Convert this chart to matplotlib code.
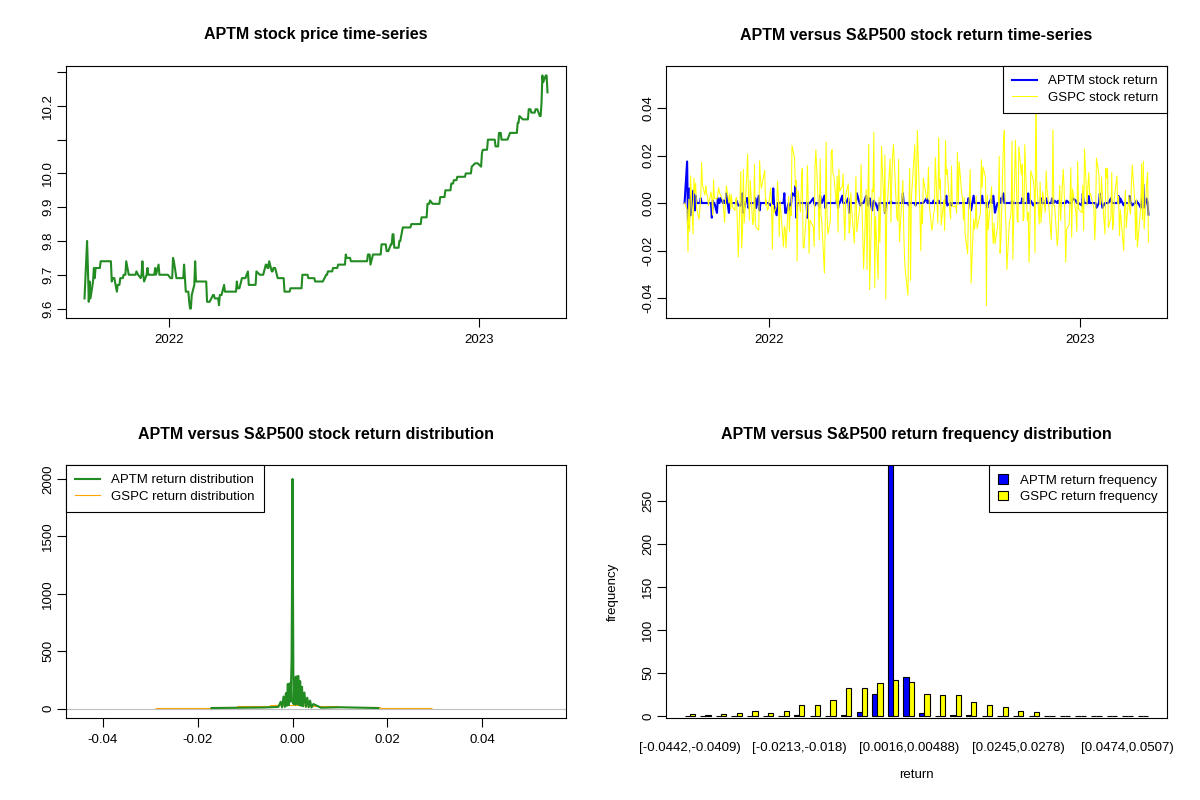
import matplotlib
matplotlib.use("Agg")
import matplotlib.pyplot as plt
import matplotlib.dates as mdates
from matplotlib.patches import Patch
from matplotlib.lines import Line2D
import numpy as np
import pandas as pd

plt.rcParams["font.family"] = ["Liberation Sans", "DejaVu Sans"]

# trading calendar
first_day = "2021-09-24"
last_day = "2023-03-22"
market_holidays = ["2021-11-25", "2021-12-24", "2022-01-17", "2022-02-21",
                   "2022-04-15", "2022-05-30", "2022-06-20", "2022-07-04",
                   "2022-09-05", "2022-11-24", "2022-12-26", "2023-01-02",
                   "2023-01-16", "2023-02-20"]

# APTM close: dates where the price moved, and the new price
aptm_dates = ["2021-09-24", "2021-09-27", "2021-09-28", "2021-09-29", "2021-09-30",
              "2021-10-01", "2021-10-04", "2021-10-05", "2021-10-06", "2021-10-07",
              "2021-10-13", "2021-10-26", "2021-10-27", "2021-11-01", "2021-11-02",
              "2021-11-05", "2021-11-09", "2021-11-12", "2021-11-15", "2021-11-24",
              "2021-11-26", "2021-11-29", "2021-11-30", "2021-12-01", "2021-12-02",
              "2021-12-03", "2021-12-06", "2021-12-07", "2021-12-08", "2021-12-16",
              "2021-12-17", "2021-12-20", "2021-12-21", "2022-01-03", "2022-01-06",
              "2022-01-07", "2022-01-10", "2022-01-19", "2022-01-20", "2022-01-21",
              "2022-01-25", "2022-01-26", "2022-01-28", "2022-01-31", "2022-02-01",
              "2022-02-02", "2022-02-15", "2022-02-22", "2022-02-24", "2022-03-01",
              "2022-03-02", "2022-03-07", "2022-03-08", "2022-03-22", "2022-03-23",
              "2022-03-28", "2022-04-04", "2022-04-05", "2022-04-14", "2022-04-18",
              "2022-04-25", "2022-04-27", "2022-04-29", "2022-05-02", "2022-05-04",
              "2022-05-09", "2022-05-17", "2022-05-24", "2022-06-07", "2022-06-14",
              "2022-06-22", "2022-07-05", "2022-07-07", "2022-07-13", "2022-07-19",
              "2022-07-28", "2022-07-29", "2022-08-03", "2022-08-23", "2022-08-26",
              "2022-08-29", "2022-09-08", "2022-09-14", "2022-09-19", "2022-09-21",
              "2022-09-23", "2022-09-29", "2022-10-03", "2022-10-13", "2022-10-25",
              "2022-11-01", "2022-11-04", "2022-11-07", "2022-11-16", "2022-11-22",
              "2022-11-29", "2022-12-02", "2022-12-06", "2022-12-16", "2022-12-23",
              "2022-12-27", "2023-01-03", "2023-01-04", "2023-01-05", "2023-01-11",
              "2023-01-20", "2023-01-24", "2023-01-27", "2023-02-06", "2023-02-15",
              "2023-02-17", "2023-02-21", "2023-02-28", "2023-03-03", "2023-03-08",
              "2023-03-13", "2023-03-15", "2023-03-16", "2023-03-17", "2023-03-20",
              "2023-03-22"]
aptm_prices = [9.63, 9.80, 9.72, 9.62, 9.68,
               9.63, 9.68, 9.72, 9.69, 9.72,
               9.74, 9.68, 9.69, 9.65, 9.67,
               9.69, 9.70, 9.74, 9.70, 9.71,
               9.70, 9.69, 9.70, 9.74, 9.70,
               9.68, 9.70, 9.72, 9.70, 9.72,
               9.70, 9.73, 9.70, 9.69, 9.75,
               9.74, 9.69, 9.73, 9.69, 9.65,
               9.62, 9.60, 9.64, 9.67, 9.74,
               9.68, 9.62, 9.64, 9.63, 9.61,
               9.64, 9.67, 9.65, 9.68, 9.66,
               9.69, 9.71, 9.67, 9.71, 9.70,
               9.73, 9.72, 9.74, 9.71, 9.72,
               9.69, 9.65, 9.66, 9.70, 9.69,
               9.68, 9.70, 9.71, 9.72, 9.73,
               9.76, 9.75, 9.74, 9.76, 9.73,
               9.76, 9.79, 9.77, 9.79, 9.82,
               9.78, 9.80, 9.84, 9.85, 9.87,
               9.91, 9.92, 9.91, 9.93, 9.95,
               9.97, 9.98, 9.99, 10.00, 10.02,
               10.03, 10.02, 10.06, 10.07, 10.10,
               10.08, 10.12, 10.10, 10.12, 10.15,
               10.17, 10.16, 10.19, 10.18, 10.19,
               10.17, 10.21, 10.29, 10.27, 10.29,
               10.24]

# S&P500 daily returns in percent, one line per month
gspc_2021 = [0.00, -0.28, -2.04, 0.16, -1.19,
             1.15, -1.30, 1.05, 0.41, 0.83, -0.19, -0.69, -0.24, 0.30, 1.71, 0.75, 0.34, 0.74, 0.37, 0.30, -0.11, 0.47, 0.18, -0.51, 0.98, 0.19,
             0.18, 0.37, 0.65, 0.42, 0.37, 0.09, -0.35, -0.82, 0.06, 0.72, 0.00, 0.39, -0.26, 0.34, -0.14, -0.32, 0.17, 0.23, -2.27, 1.32, -1.90,
             -1.18, 1.42, -0.84, 1.17, 2.07, 0.31, -0.72, 0.95, -0.91, -0.75, 1.63, -0.87, -1.03, -1.14, 1.78, 1.02, 0.62, 1.38, -0.10, 0.14, -0.30, -0.26]
gspc_2022 = [0.64, -0.06, -1.94, -0.10, -0.41, -0.14, 0.92, 0.28, -1.42, 0.08, -1.84, -0.97, -1.10, -1.89, 0.28, -1.22, -0.15, -0.54, 2.43, 1.89,
             0.69, 0.94, -2.44, 0.52, -0.37, 0.84, 1.45, -1.81, -1.90, -0.38, 1.58, 0.09, -2.12, -0.72, -1.01, -1.84, 1.50, 2.24, -0.24,
             -1.55, 1.86, -0.53, -0.79, -2.95, -0.72, 2.57, -0.43, -1.30, -0.74, 2.14, 2.24, 1.23, 1.17, -0.04, 1.13, -1.23, 1.43, 0.51, 0.71, 1.23, -0.63, -1.57,
             0.34, 0.81, -1.26, -0.97, 0.43, -0.27, -1.69, -0.34, 1.12, -1.21, -0.02, 1.61, -0.06, -1.48, -2.77, 0.57, -2.81, 0.21, 2.47, -3.63,
             0.57, 0.48, 2.99, -3.56, -0.57, -3.20, 0.25, -1.65, -0.13, 2.39, -0.39, 2.02, -4.04, -0.58, 0.01, 1.86, -0.81, 0.95, 1.99, 2.47, -0.63,
             -0.75, 1.84, -1.63, 0.31, 0.95, -1.08, -2.38, -2.91, -3.88, -0.38, 1.46, -3.25, 0.22, 2.45, -0.13, 0.95, 3.06, -0.30, -2.01, -0.07, -0.88,
             1.06, 0.16, 0.36, 1.50, -0.08, -1.15, -0.92, -0.45, -0.30, 1.92, -0.84, 2.76, 0.59, 0.99, -0.93, 0.13, -1.15, 2.62, 1.21, 1.42,
             -0.28, -0.67, 1.56, -0.08, -0.16, -0.12, -0.42, 2.13, -0.07, 1.73, 0.40, 0.19, -0.72, 0.23, -1.29, -2.14, -0.22, 0.29, 1.41, -3.37, -0.67, -1.10, -0.78,
             0.30, -1.07, -0.41, 1.83, 0.66, 1.53, 1.06, -4.32, 0.34, -1.13, -0.72, 0.69, -1.13, -1.71, -0.84, -1.72, -1.03, -0.21, 1.97, -2.11, -1.51,
             2.59, 3.06, -0.20, -1.02, -2.80, -0.75, -0.65, -0.33, 2.60, -2.37, 2.65, 1.14, -0.67, -0.80, 2.37, 1.19, 1.63, -0.74, -0.61, 2.46, -0.75,
             -0.41, -2.50, -1.06, 1.36, 0.96, 0.56, -2.08, 5.37, 0.92, -0.89, 0.87, -0.83, -0.31, 0.48, -0.39, 1.36, 0.59, -0.03, -1.54, -0.16, 3.09,
             -0.09, -0.12, -1.79, -1.44, -0.19, 0.75, -0.73, 1.43, 0.73, -0.61, -2.49, -1.11, -0.90, 0.10, 1.49, -1.45, 0.59, -0.40, -1.20, 1.75, -0.25]
gspc_2023 = [-0.40, 0.75, -1.16, 2.28, -0.08, 0.70, 1.28, 0.34, 0.40, -0.20, -1.56, -0.76, 1.89, 1.19, -0.07, -0.02, 1.10, 0.25, -1.30, 1.46,
             1.05, 1.47, -1.04, -0.61, 1.29, -1.11, -0.88, 0.22, 1.14, -0.03, 0.28, -1.38, -0.28, -2.00, -0.16, 0.53, -1.05, 0.31, -0.30,
             -0.47, 0.76, 1.61, 0.07, -1.53, 0.14, -1.85, -1.45, -0.15, 1.65, -0.70, 1.76, -1.10, 0.89, 1.30, -1.65]

# return distribution curves
aptm_dist_x = [-0.0171, -0.0110, -0.0060, -0.0030, -0.0025, -0.0022, -0.0019, -0.0016, -0.0014,
               -0.0012, -0.0010, -0.0008, -0.0006, -0.0004, -0.0002, 0.0000, 0.0002, 0.0004, 0.0006,
               0.0008, 0.0010, 0.0012, 0.0014, 0.0016, 0.0018, 0.0020, 0.0022, 0.0025, 0.0028,
               0.0031, 0.0034, 0.0037, 0.0040, 0.0044, 0.0060, 0.0100, 0.0181]
aptm_dist_y = [5, 8, 10, 15, 60, 10, 105, 15, 135,
               25, 215, 30, 220, 60, 430, 2000, 40, 270, 35,
               280, 40, 285, 30, 240, 25, 190, 20, 140, 15,
               95, 12, 70, 10, 40, 8, 12, 5]
gspc_dist_edges = [-0.0290, -0.0171, -0.0118, -0.0048, 0.0026, 0.0096, 0.0184, 0.0295]
gspc_dist_y = [9, 17, 26, 35, 26, 17, 9]

# return frequency table
bin_labels = ["[-0.0442,-0.0409)", "[-0.0409,-0.0377)", "[-0.0377,-0.0344)", "[-0.0344,-0.0311)",
              "[-0.0311,-0.0278)", "[-0.0278,-0.0246)", "[-0.0246,-0.0213)", "[-0.0213,-0.018)",
              "[-0.018,-0.0148)", "[-0.0148,-0.0115)", "[-0.0115,-0.00821)", "[-0.00821,-0.00494)",
              "[-0.00494,-0.00166)", "[-0.00166,0.0016)", "[0.0016,0.00488)", "[0.00488,0.00816)",
              "[0.00816,0.0114)", "[0.0114,0.0147)", "[0.0147,0.018)", "[0.018,0.0212)",
              "[0.0212,0.0245)", "[0.0245,0.0278)", "[0.0278,0.0311)", "[0.0311,0.0343)",
              "[0.0343,0.0376)", "[0.0376,0.0409)", "[0.0409,0.0442)", "[0.0442,0.0474)",
              "[0.0474,0.0507)", "[0.0507,0.054]"]
aptm_freq = [0, 0, 0, 0, 0, 0, 0, 1, 0, 0, 1, 5, 26, 292, 45, 3, 0, 1, 1, 0, 0, 0, 0, 0, 0, 0, 0, 0, 0, 0]
gspc_freq = [2, 1, 2, 3, 6, 3, 6, 13, 13, 19, 33, 33, 38, 42, 40, 26, 24, 25, 16, 13, 10, 6, 5, 0, 0, 0, 0, 0, 0, 0]

days = pd.bdate_range(first_day, last_day)
days = days[~days.isin(pd.to_datetime(market_holidays))]
aptm = pd.Series(aptm_prices, index=pd.to_datetime(aptm_dates)).reindex(days, method="ffill")
aptm_ret = np.log(aptm).diff().fillna(0)
gspc_ret = np.array(gspc_2021 + gspc_2022 + gspc_2023) / 100
n = min(len(days), len(gspc_ret))

GREEN = "#228B22"
FS = 9.5
W, H = 1200, 800


def make_axes(left, top, right, bottom):
    return fig.add_axes([left / W, 1 - bottom / H, (right - left) / W, (bottom - top) / H])


def style(ax):
    for s in ax.spines.values():
        s.set_linewidth(0.8)
    ax.tick_params(length=6.5, width=0.8, labelsize=FS, pad=5)
    ax.tick_params(axis="y", pad=2)
    for t in ax.get_yticklabels():
        t.set_rotation(90)
        t.set_va("center")


def title(ax, text, y):
    box = ax.get_position()
    fig.text((box.x0 + box.x1) / 2, 1 - y / H, text, ha="center", va="center",
             fontsize=11.5, fontweight="bold")


def legend(ax, handles, labels, loc, **kw):
    opts = dict(handlelength=1.9, handletextpad=0.8)
    opts.update(kw)
    lg = ax.legend(handles, labels, loc=loc, fontsize=FS, frameon=True, fancybox=False,
                   edgecolor="black", framealpha=1, borderaxespad=0,
                   labelspacing=0.3, borderpad=0.7, **opts)
    lg.get_frame().set_linewidth(0.8)


fig = plt.figure(figsize=(12, 8), dpi=100)

# price time series
ax1 = make_axes(66, 66, 566, 318)
ax1.plot(days, aptm.values, color=GREEN, lw=1.5)
span = days[-1] - days[0]
ax1.set_xlim(days[0] - span * 0.04, days[-1] + span * 0.04)
ax1.set_ylim(9.572, 10.318)
ax1.xaxis.set_major_locator(mdates.YearLocator())
ax1.xaxis.set_major_formatter(mdates.DateFormatter("%Y"))
yt = [9.6, 9.7, 9.8, 9.9, 10.0, 10.1, 10.2, 10.3]
ax1.set_yticks(yt)
ax1.set_yticklabels(["9.6", "9.7", "9.8", "9.9", "10.0", "", "10.2", ""])
style(ax1)
title(ax1, "APTM stock price time-series", 35)

# return time series
ax2 = make_axes(666, 66, 1167, 318)
ax2.plot(days, aptm_ret.values, color="blue", lw=1.5)
ax2.plot(days[:n], gspc_ret[:n], color="yellow", lw=0.75)
ax2.set_xlim(days[0] - span * 0.04, days[-1] + span * 0.04)
ax2.set_ylim(-0.0484, 0.0577)
ax2.xaxis.set_major_locator(mdates.YearLocator())
ax2.xaxis.set_major_formatter(mdates.DateFormatter("%Y"))
ax2.set_yticks([-0.04, -0.02, 0.0, 0.02, 0.04])
ax2.set_yticklabels(["-0.04", "-0.02", "0.00", "0.02", "0.04"])
style(ax2)
legend(ax2, [Line2D([], [], color="blue", lw=1.5), Line2D([], [], color="yellow", lw=0.75)],
       ["APTM stock return", "GSPC stock return"], "upper right")
title(ax2, "APTM versus S&P500 stock return time-series", 35)

# return distribution
ax3 = make_axes(66, 465, 566, 718)
ax3.axhline(0, color="#BEBEBE", lw=0.8)
ax3.plot(aptm_dist_x, aptm_dist_y, color=GREEN, lw=1.5)
ax3.stairs(gspc_dist_y, gspc_dist_edges, color="orange", lw=0.8, baseline=None)
ax3.set_xlim(-0.0478, 0.0577)
ax3.set_ylim(-81.6, 2121.6)
ax3.set_xticks([-0.04, -0.02, 0.0, 0.02, 0.04])
ax3.set_xticklabels(["-0.04", "-0.02", "0.00", "0.02", "0.04"])
ax3.set_yticks([0, 500, 1000, 1500, 2000])
style(ax3)
legend(ax3, [Line2D([], [], color=GREEN, lw=1.5), Line2D([], [], color="orange", lw=0.8)],
       ["APTM return distribution", "GSPC return distribution"], "upper left")
title(ax3, "APTM versus S&P500 stock return distribution", 435)

# frequency bars
ax4 = make_axes(666, 465, 1167, 718)
groups = np.arange(len(bin_labels))
ax4.bar(1.5 + 3 * groups, aptm_freq, width=1, color="blue", edgecolor="black", lw=0.8)
ax4.bar(2.5 + 3 * groups, gspc_freq, width=1, color="yellow", edgecolor="black", lw=0.8)
last = 3 * len(groups)
ax4.set_xlim(1 - 0.04 * (last - 1), last + 0.04 * (last - 1))
ax4.set_ylim(-2.3, 292)
shown = groups[::7]
ax4.set_xticks(2 + 3 * shown)
ax4.set_xticklabels([bin_labels[i] for i in shown])
ax4.set_yticks([0, 50, 100, 150, 200, 250])
style(ax4)
ax4.tick_params(axis="x", length=0, pad=17)
ax4.set_xlabel("return", fontsize=FS, labelpad=11)
ax4.set_ylabel("frequency", fontsize=FS, labelpad=17)
legend(ax4, [Patch(facecolor="blue", edgecolor="black", lw=0.8),
             Patch(facecolor="yellow", edgecolor="black", lw=0.8)],
       ["APTM return frequency", "GSPC return frequency"], "upper right",
       handlelength=0.75, handleheight=0.75, handletextpad=0.9)
title(ax4, "APTM versus S&P500 return frequency distribution", 435)

fig.savefig("out.png", dpi=100)
